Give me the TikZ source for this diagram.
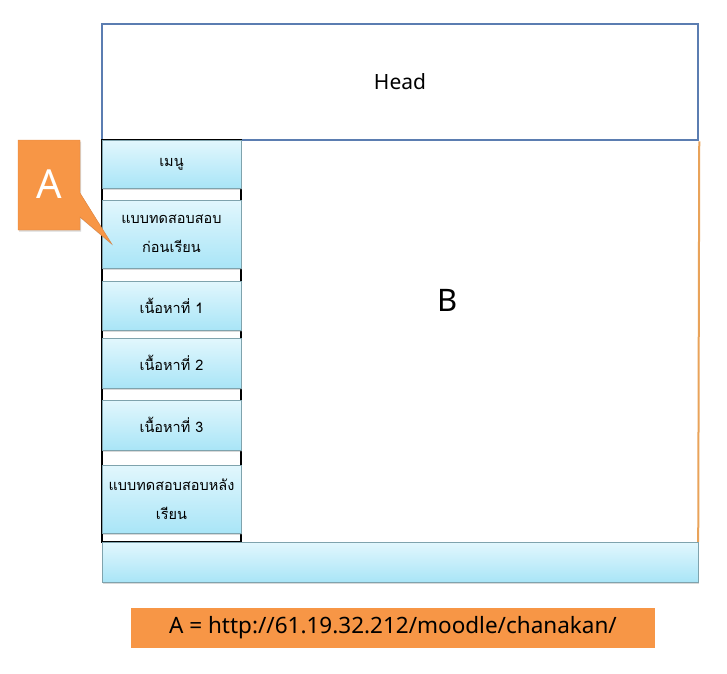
\documentclass[tikz,border=0pt]{standalone}
\usepackage{fontspec}
\setmainfont{Noto Sans}
\newfontfamily\thaifont[Script=Thai]{Loma}
\usetikzlibrary{shadows}

\definecolor{headline}{HTML}{5B7DB1}
\definecolor{sideline}{HTML}{E9A35A}
\definecolor{btntop}{HTML}{E2F7FD}
\definecolor{btnbot}{HTML}{A9E5F7}
\definecolor{btnline}{HTML}{7FA3AD}
\definecolor{calloutfill}{HTML}{F79646}
\definecolor{calloutline}{HTML}{DD8440}

\tikzset{
  softshadow/.style={drop shadow={shadow xshift=1pt,shadow yshift=-1.5pt,opacity=0.3}},
  menubtn/.style={draw=btnline,top color=btntop,bottom color=btnbot,softshadow,
    minimum width=139pt,inner sep=0pt,align=center,
    font=\thaifont\fontsize{14.5}{29}\selectfont},
}

\begin{document}
\begin{tikzpicture}[x=1pt,y=-1pt]
  \useasboundingbox (0,0) rectangle (727,673);
  \node[draw=headline,line width=2.5pt,minimum width=596pt,minimum height=116pt,
    font=\fontsize{21}{24}\selectfont] (head) at (400,82) {Head};
  \node[draw=black,line width=1.5pt,minimum width=139pt,minimum height=402pt,inner sep=0pt]
    (menucol) at (171.5,341) {};
  \node[draw=btnline,top color=btntop,bottom color=btnbot,softshadow,
    minimum width=596pt,minimum height=40pt,inner sep=0pt] (footer) at (400,562) {};
  \draw[sideline,line width=2pt] (head.south east) -- (footer.north east);
  \node[font=\fontsize{31}{34}\selectfont] (bpart) at (448,300) {B};
  % menu buttons down the left column
  \foreach \nm/\yc/\bh/\txt in {menu/164/48/{เมนู},
      pretest/234/68/{แบบทดสอบสอบ\\ก่อนเรียน},
      unit1/305.5/49/{เนื้อหาที่ 1},
      unit2/363/50/{เนื้อหาที่ 2},
      unit3/425/50/{เนื้อหาที่ 3},
      posttest/499/68/{แบบทดสอบสอบหลัง\\เรียน}}{
    \node[menubtn,minimum height=\bh pt] (\nm) at (171.5,\yc) {\txt};}
  % callout A
  \coordinate (tipA) at ([shift={(10pt,-10pt)}]pretest.west);
  \draw[calloutline,fill=calloutfill,softshadow] (18,140) -- (80,140) -- (80,193)
    -- (tipA) -- (80,217) -- (80,230) -- (18,230) -- cycle;
  \node[text=white,font=\fontsize{40}{44}\selectfont] (alabel) at (49,184) {A};
  \node[fill=calloutfill,draw=white,line width=3pt,softshadow,minimum width=527pt,
    minimum height=43pt,inner sep=0pt,font=\fontsize{22.5}{26}\selectfont]
    (url) at (393,628) {A = http://61.19.32.212/moodle/chanakan/};
\end{tikzpicture}
\end{document}
